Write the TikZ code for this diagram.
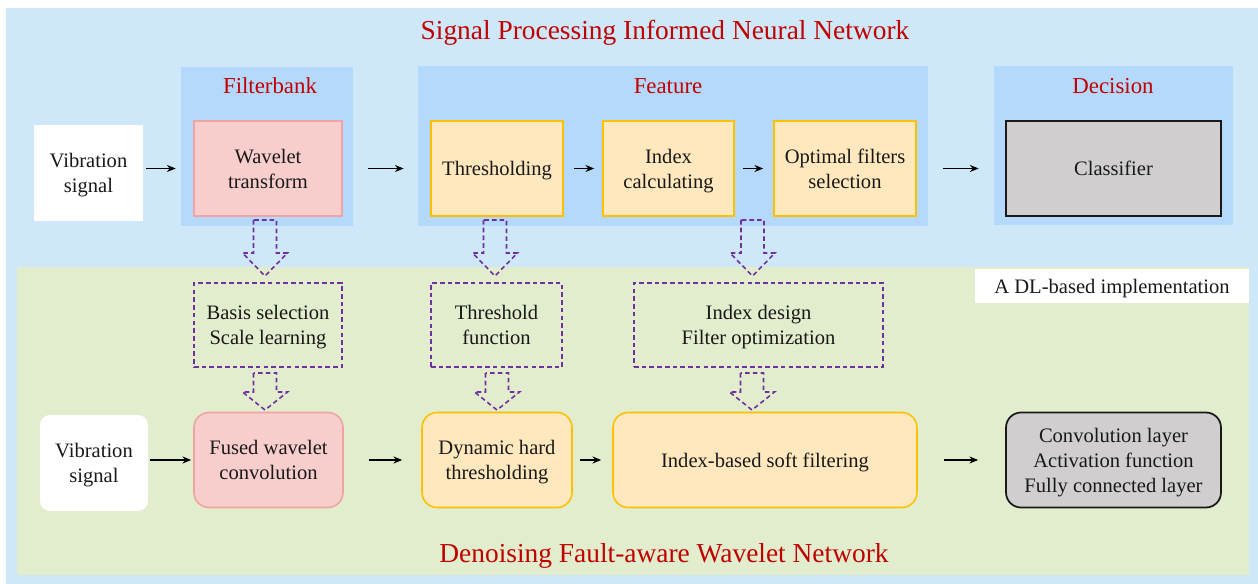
\documentclass[tikz,border=0pt]{standalone}
\usepackage{fontspec}
\setmainfont{Liberation Serif}
\usetikzlibrary{arrows.meta}

\definecolor{outerblue}{HTML}{CEE7F9}
\definecolor{panelblue}{HTML}{B5D8FD}
\definecolor{dlgreen}{HTML}{E2EDCD}
\definecolor{wavepink}{HTML}{F8CECC}
\definecolor{wavepinkline}{HTML}{EFA3A3}
\definecolor{featfill}{HTML}{FFE8BE}
\definecolor{featline}{HTML}{FFC000}
\definecolor{clsgray}{HTML}{D0CECE}
\definecolor{dashpurple}{HTML}{7030A0}
\definecolor{titlered}{HTML}{C00000}

% 空心虚线箭头: x, 顶部y, 肩部y, 尖端y
\newcommand{\hollowarrow}[4]{%
  \draw[hollow] (#1-11.5,#2) -- (#1-11.5,#3) -- (#1-22.5,#3) -- (#1,#4)
    -- (#1+22.5,#3) -- (#1+11.5,#3) -- (#1+11.5,#2) -- cycle;}

\begin{document}
\begin{tikzpicture}[
    >={Stealth[length=5pt,width=4pt]},
    x=0.02cm, y=-0.02cm, % 像素坐标
    every node/.style={font=\rmfamily\fontsize{11.7}{14.2}\selectfont, text=black!90, align=center, inner sep=0pt, text depth=-1pt},
    panel/.style={fill=panelblue, draw=none},
    wave/.style={fill=wavepink, draw=wavepinkline, line width=0.9pt},
    feat/.style={fill=featfill, draw=featline, line width=0.9pt},
    cls/.style={fill=clsgray, draw=black!90, line width=1pt},
    design/.style={draw=dashpurple, dash pattern=on 2.6pt off 1.8pt, line width=0.7pt},
    hollow/.style={design, line width=0.9pt},
    flow/.style={->, line width=0.7pt},
    ptitle/.style={text=titlered, font=\rmfamily\fontsize{13}{15}\selectfont},
    btitle/.style={text=titlered, font=\rmfamily\fontsize{15.6}{18}\selectfont}
]
\useasboundingbox (0,0) rectangle (1258,584);

% ========== 背景 ==========
\fill[outerblue] (6,8) rectangle (1258,584);
\fill[dlgreen] (17,267) rectangle (1249,575);

\node[btitle] (toptitle) at (665,30) {Signal Processing Informed Neural Network};
\node[btitle] (bottitle) at (664,553) {Denoising Fault-aware Wavelet Network};

% ========== 上方：信号处理流程 ==========
\node[panel, minimum width=3.44cm, minimum height=3.18cm] (fb) at (267,146.5) {};
\node[panel, minimum width=10.2cm, minimum height=3.2cm] (feat) at (673,146) {};
\node[panel, minimum width=4.78cm, minimum height=3.18cm] (dec) at (1113.5,145.5) {};

\node[ptitle] (fbtitle) at (270,86) {Filterbank};
\node[ptitle] (feattitle) at (668,86) {Feature};
\node[ptitle] (dectitle) at (1113,86) {Decision};

% 空心箭头 (上)
\hollowarrow{265}{220}{253}{276}
\hollowarrow{495}{220}{253}{276}
\hollowarrow{752.5}{220}{253}{276}

\node[fill=white, minimum width=2.18cm, minimum height=1.92cm] (vib1) at (88.5,173) {Vibration\\signal};
\node[wave, minimum width=2.96cm, minimum height=1.9cm] (wt) at (268,168.5) {Wavelet\\transform};
\node[feat, minimum width=2.64cm, minimum height=1.9cm] (thr) at (497,168.5) {Thresholding};
\node[feat, minimum width=2.62cm, minimum height=1.9cm] (idx) at (668.5,168.5) {Index\\calculating};
\node[feat, minimum width=2.84cm, minimum height=1.9cm] (opt) at (845,168.5) {Optimal filters\\selection};
\node[cls, minimum width=4.3cm, minimum height=1.9cm] (cls) at (1113.5,168.5) {Classifier};

\draw[flow, shorten <=0.06cm, shorten >=0.1cm] (vib1.east |- wt) -- (fb.west |- wt);
\draw[flow, shorten <=0.3cm, shorten >=0.28cm] (fb.east |- wt) -- (feat.west |- wt);
\draw[flow, shorten <=0.2cm, shorten >=0.16cm] (thr) -- (idx);
\draw[flow, shorten <=0.16cm, shorten >=0.2cm] (idx) -- (opt);
\draw[flow, shorten <=0.3cm, shorten >=0.3cm] (feat.east |- cls) -- (dec.west |- cls);

% ========== 下方：深度学习实现 ==========
\node[fill=white, minimum width=5.48cm, minimum height=0.68cm] (dl) at (1112,286) {A DL-based implementation};

\node[design, minimum width=2.96cm, minimum height=1.68cm] (bs) at (268,325) {Basis selection\\Scale learning};
\node[design, minimum width=2.62cm, minimum height=1.68cm] (tf) at (496.5,325) {Threshold\\function};
\node[design, minimum width=4.98cm, minimum height=1.68cm] (id) at (758.5,325) {Index design\\Filter optimization};

% 空心箭头 (下)
\hollowarrow{265}{373}{392}{410}
\hollowarrow{497}{373}{392}{410}
\hollowarrow{752}{373}{392}{410}

\node[fill=white, rounded corners=0.2cm, minimum width=2.16cm, minimum height=1.92cm] (vib2) at (94,463) {Vibration\\signal};
\node[wave, rounded corners=0.3cm, minimum width=2.98cm, minimum height=1.9cm] (fwc) at (268.5,460) {Fused wavelet\\convolution};
\node[feat, rounded corners=0.3cm, minimum width=3.0cm, minimum height=1.9cm] (dht) at (497,460) {Dynamic hard\\thresholding};
\node[feat, rounded corners=0.3cm, minimum width=6.08cm, minimum height=1.9cm] (ibsf) at (765,460) {Index-based soft filtering};
\node[cls, rounded corners=0.3cm, minimum width=4.3cm, minimum height=1.9cm] (cnn) at (1113.5,460) {Convolution layer\\Activation function\\Fully connected layer};

\draw[flow, shorten <=0.04cm, shorten >=0.04cm] (vib2.east |- fwc) -- (fwc);
\draw[flow, shorten <=0.5cm, shorten >=0.38cm] (fwc) -- (dht);
\draw[flow, shorten <=0.14cm, shorten >=0.22cm] (dht) -- (ibsf);
\draw[flow, shorten <=0.52cm, shorten >=0.54cm] (ibsf) -- (cnn);

\end{tikzpicture}
\end{document}
